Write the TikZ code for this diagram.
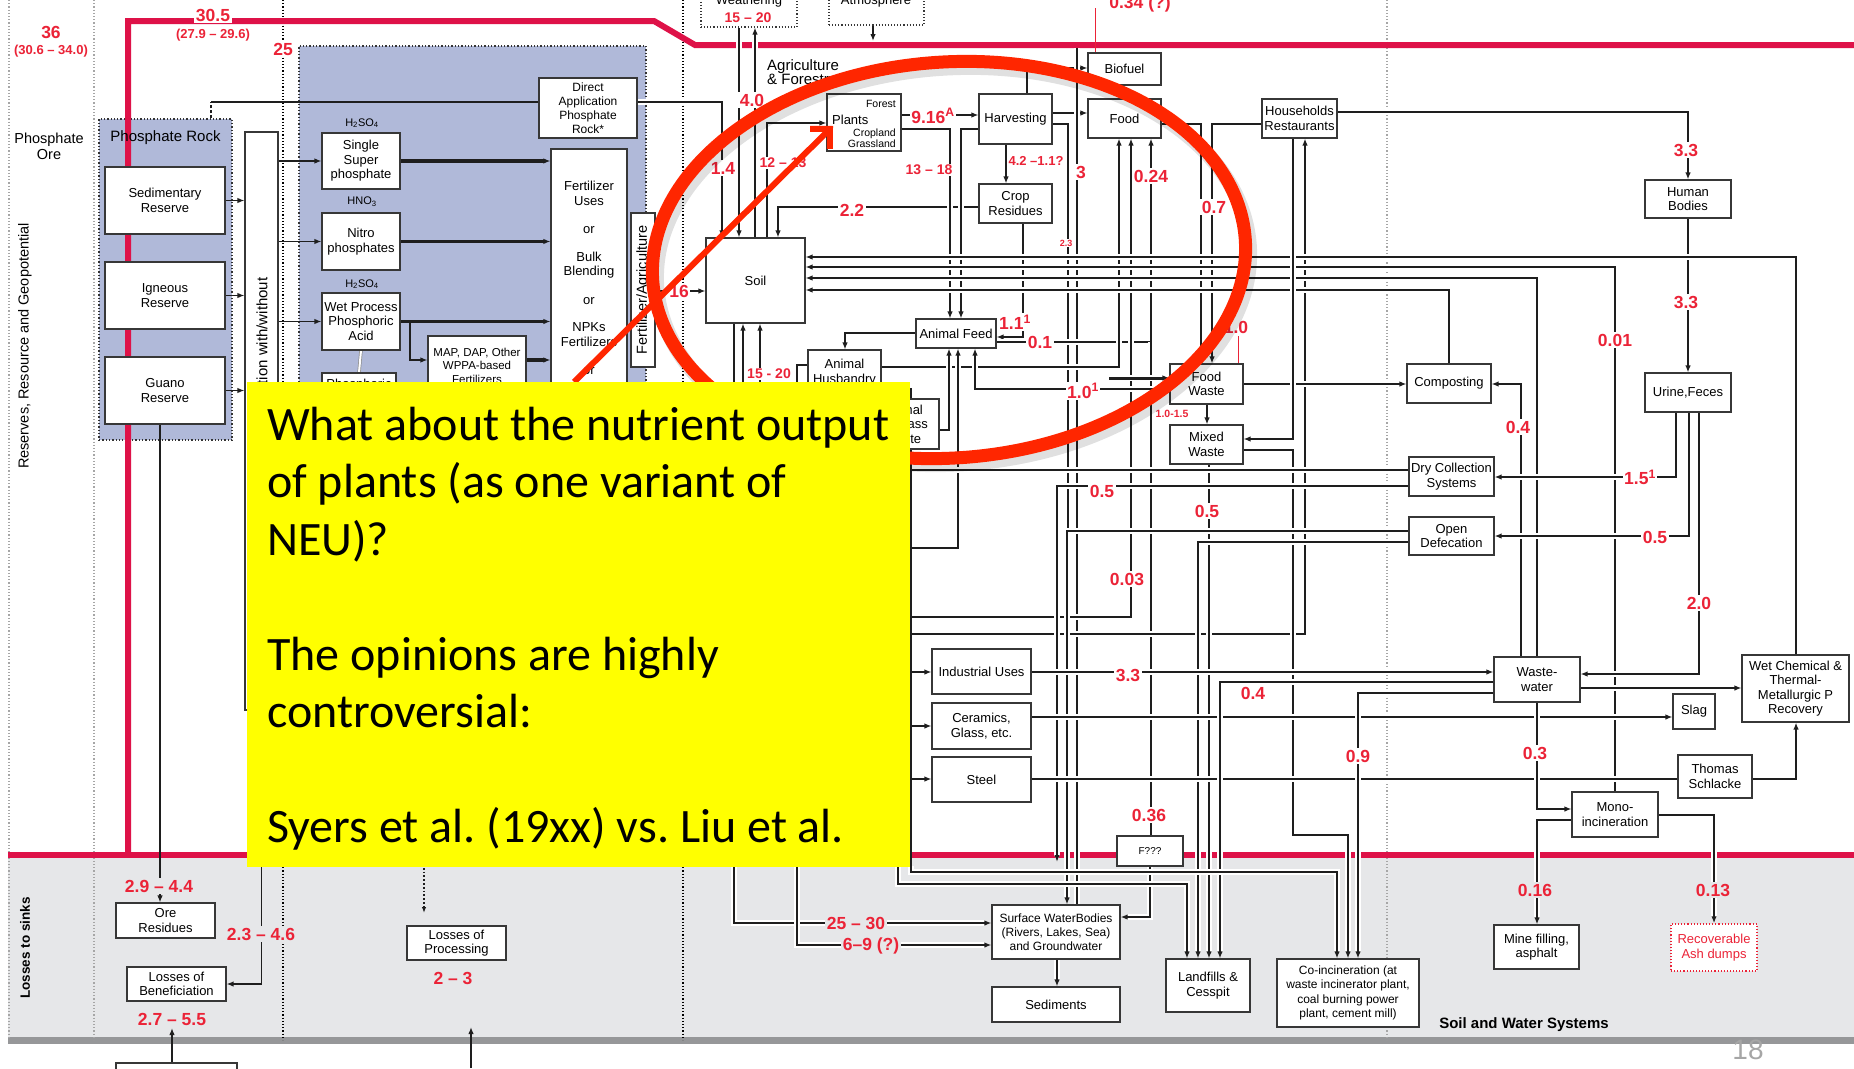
\documentclass[tikz,border=0pt]{standalone}
\usepackage{fontspec}
\setmainfont{Liberation Sans}
\newfontfamily\calfont{Carlito}
\usetikzlibrary{arrows.meta}
\pgfdeclarelayer{back}
\pgfdeclarelayer{lines}
\pgfdeclarelayer{top}
\pgfsetlayers{back,lines,main,top}
\definecolor{redline}{RGB}{222,18,72}
\definecolor{lred}{RGB}{235,35,55}
\definecolor{band}{RGB}{230,231,233}
\definecolor{barg}{RGB}{150,151,153}
\definecolor{lav}{RGB}{176,185,217}
\definecolor{ellred}{RGB}{255,38,0}
\definecolor{yel}{RGB}{255,255,0}
\definecolor{bline}{RGB}{55,55,55}
\definecolor{cline}{RGB}{30,30,30}
\frenchspacing
\newcommand\mybx[7][]{\node[bx,minimum width={(#5-#3)*1pt},minimum height={(#6-#4)*1pt},#1] (#2) at ({(#3+#5)/2},{(#4+#6)/2}) {#7};}
\tikzset{
  bx/.style={draw=bline,line width=1.1pt,fill=white,inner sep=1pt,align=center,font=\fontsize{13}{14.5}\selectfont},
  ln/.style={draw=cline,line width=1.8pt,preaction={draw=white,line width=6pt}},
  lnp/.style={draw=cline,line width=1.8pt},
  thk/.style={draw=cline,line width=3.5pt},
  tip/.style={-{Latex[length=7pt,width=5.5pt]}},
  lab/.style={text=lred,font=\bfseries\fontsize{17.5}{17.5}\selectfont,fill=white,inner sep=1.5pt},
  labg/.style={lab,fill=band},
  labs/.style={lab,font=\bfseries\fontsize{14}{14}\selectfont},
  labt/.style={text=lred,font=\bfseries\fontsize{13}{13}\selectfont,inner sep=1pt},
  txt/.style={font=\fontsize{13}{14.5}\selectfont,align=center,inner sep=1pt},
  sep/.style={line width=1.2pt,dotted},
  grp/.style={draw=black!80,line width=1.3pt,dotted,fill=lav,inner sep=0pt},
  redb/.style={draw=redline,line width=6pt},
  ytxt/.style={anchor=base west,font=\calfont\fontsize{48}{48}\selectfont,inner sep=0pt},
}
\begin{document}
\begin{tikzpicture}[x=1pt,y=-1pt]
\useasboundingbox (0,0) rectangle (1854,1068);
% ---------------- background layer
\begin{pgfonlayer}{back}
\fill[white] (0,0) rectangle (1854,1068);
\fill[band] (8,857) rectangle (1854,1039);
\fill[barg] (8,1037) rectangle (1854,1044);
\draw[sep,black!35] (9,0) -- (9,1040);
\draw[sep,black!35] (94,0) -- (94,1040);
\draw[sep] (283,0) -- (283,1040);
\draw[sep] (683,0) -- (683,1040);
\draw[sep,black!35] (1387,0) -- (1387,1040);
\node[grp,minimum width=133pt,minimum height=321pt] (prock) at (165.5,279.5) {};
\node[grp,minimum width=347pt,minimum height=674pt] (proc) at (472.5,383) {};
\draw[redb] (128,855) -- (128,21) -- (654,21) -- (695,45) -- (1854,45);
\draw[redb] (8,855) -- (1854,855);
\end{pgfonlayer}
% ---------------- boxes
\mybx{sed}{105}{167}{225}{234}{Sedimentary\\Reserve}
\mybx{ign}{105}{262}{225}{329}{Igneous\\Reserve}
\mybx{guano}{105}{357}{225}{424}{Guano\\Reserve}
\mybx{benef}{245}{132}{278}{710}{}
\mybx{ssp}{322}{133}{400}{189}{Single\\Super\\phosphate}
\mybx{nitro}{322}{213}{400}{270}{Nitro\\phosphates}
\mybx{wpa}{322}{293}{400}{350}{Wet Process\\Phosphoric\\Acid}
\mybx{phos}{322}{373}{396}{430}{}
\mybx[font=\fontsize{11.5}{13.5}\selectfont]{map}{428}{336}{526}{395}{MAP, DAP, Other\\WPPA-based\\Fertilizers}
\mybx[font=\fontsize{12}{14}\selectfont]{direct}{539}{78}{637}{138}{Direct\\Application\\Phosphate\\Rock*}
\mybx{fert}{551}{149}{627}{710}{}
\mybx{fa}{631}{213}{655}{367}{}
\mybx[dotted]{weath}{701}{-12}{797}{27}{}
\mybx[dotted]{atmos}{829}{-12}{924}{25}{}
\mybx{soil}{706}{238}{805}{323}{Soil}
\mybx{plants}{827}{94}{901}{151}{}
\mybx{harv}{979}{94}{1052}{144}{Harvesting}
\mybx{crop}{979}{184}{1052}{223}{Crop\\Residues}
\mybx{afeed}{916}{319}{996}{348}{Animal Feed}
\mybx{ahus}{808}{350}{881}{395}{Animal\\Husbandry}
\mybx{abw}{855}{399}{939}{449}{}
\mybx{biofuel}{1088}{53}{1161}{85}{Biofuel}
\mybx{food}{1088}{99}{1161}{138}{Food}
\mybx{house}{1262}{99}{1337}{138}{Households\\Restaurants}
\mybx{hbod}{1645}{180}{1731}{218}{Human\\Bodies}
\mybx{urine}{1645}{373}{1731}{412}{Urine,Feces}
\mybx{fwaste}{1170}{364}{1243}{404}{Food\\Waste}
\mybx{mwaste}{1170}{425}{1243}{464}{Mixed\\Waste}
\mybx{compost}{1407}{364}{1491}{403}{Composting}
\mybx{dry}{1409}{457}{1494}{496}{Dry Collection\\Systems}
\mybx{open}{1409}{517}{1494}{555}{Open\\Defecation}
\mybx{indus}{932}{649}{1031}{694}{Industrial Uses}
\mybx{ceram}{932}{703}{1031}{749}{Ceramics,\\Glass, etc.}
\mybx{steel}{932}{757}{1031}{802}{Steel}
\mybx{wwater}{1494}{657}{1580}{702}{Waste-\\water}
\mybx{wetchem}{1742}{655}{1849}{722}{Wet Chemical \&\\Thermal-\\Metallurgic P\\Recovery}
\mybx{slag}{1673}{694}{1715}{729}{Slag}
\mybx{thomas}{1678}{755}{1752}{798}{Thomas\\Schlacke}
\mybx{mono}{1572}{792}{1658}{837}{Mono-\\incineration}
\mybx[font=\fontsize{10}{10}\selectfont]{fquest}{1117}{836}{1183}{866}{F???}
\mybx[font=\fontsize{12}{14}\selectfont]{swater}{992}{905}{1120}{959}{Surface WaterBodies\\(Rivers, Lakes, Sea)\\and Groundwater}
\mybx{sed2}{992}{987}{1120}{1022}{Sediments}
\mybx{landfill}{1166}{959}{1250}{1012}{Landfills \&\\Cesspit}
\mybx[font=\fontsize{12}{14.5}\selectfont]{coinc}{1277}{959}{1419}{1027}{Co-incineration (at\\waste incinerator plant,\\coal burning power\\plant, cement mill)}
\mybx{mine}{1494}{925}{1579}{969}{Mine filling,\\asphalt}
\mybx[draw=lred,dotted,line width=1.5pt,text=lred]{ash}{1671}{924}{1757}{971}{Recoverable\\Ash dumps}
\mybx{oreres}{116}{903}{215}{938}{Ore\\Residues}
\mybx{lbenef}{127}{967}{226}{1001}{Losses of\\Beneficiation}
\mybx{lproc}{407}{926}{506}{960}{Losses of\\Processing}
\mybx{botbox}{116}{1063}{237}{1100}{}
% texts inside / near boxes
\node[font=\fontsize{15}{15}\selectfont] (prlab) at (165.5,138) {Phosphate Rock};
\node[rotate=90,anchor=east,font=\fontsize{15}{15}\selectfont] (beneft) at (262,274) {Beneficiation with/without};
\node[txt] (phost) at (359,385) {Phosphoric};
\node[txt] (abwt) at (903,424) {Animal\\Biomass\\Waste};
\node[txt,anchor=north] (fertt) at (589,180) {Fertilizer\\Uses\\[14pt]or\\[13pt]Bulk\\Blending\\[14pt]or\\[13pt]NPKs\\Fertilizers\\[14pt]or};
\node[rotate=90,font=\fontsize{14.5}{14.5}\selectfont] (fat) at (643,290) {Fertilizer/Agriculture};
\node[font=\fontsize{11}{11}\selectfont] (hs1) at (362,123) {H\textsubscript{2}SO\textsubscript{4}};
\node[font=\fontsize{11}{11}\selectfont] (hno) at (362,202) {HNO\textsubscript{3}};
\node[font=\fontsize{11}{11}\selectfont] (hs2) at (362,284) {H\textsubscript{2}SO\textsubscript{4}};
\node[font=\fontsize{10.5}{10.5}\selectfont,anchor=east,inner sep=0pt] (pfor) at (896,104) {Forest};
\node[font=\fontsize{13}{13}\selectfont,anchor=west,inner sep=0pt] (ppl) at (832,120) {Plants};
\node[font=\fontsize{10.5}{10.5}\selectfont,anchor=east,inner sep=0pt] (pcro) at (896,134) {Cropland};
\node[font=\fontsize{10.5}{10.5}\selectfont,anchor=east,inner sep=0pt] (pgra) at (896,144) {Grassland};
\node[font=\fontsize{13}{13}\selectfont] (weatht) at (749,1) {Weathering};
\node[font=\fontsize{13}{13}\selectfont] (atmost) at (876,1) {Atmosphere};
\node[font=\fontsize{14.5}{16}\selectfont,align=center] (phore) at (49,146) {Phosphate\\Ore};
\node[rotate=90,font=\fontsize{14.5}{14.5}\selectfont] (resl) at (25,346) {Reserves, Resource and Geopotential};
\node[rotate=90,font=\bfseries\fontsize{13.5}{13.5}\selectfont] (lossl) at (25,948) {Losses to sinks};
\node[anchor=north west,align=left,inner sep=0pt,font=\fontsize{15}{14.5}\selectfont] (agf) at (767,59) {Agriculture\\\& Forestry};
\node[font=\bfseries\fontsize{15}{15}\selectfont] (swsys) at (1524,1025) {Soil and Water Systems};
\node[text=black!35,font=\fontsize{28}{28}\selectfont] (pgno) at (1748,1050) {18};
\coordinate (b471) at (471,1068);
\coordinate (yA) at (880,470);
\coordinate (yB) at (880,548);
\coordinate (yC) at (880,617);
\coordinate (yD) at (880,634);
\coordinate (yE) at (895,672);
\coordinate (yF) at (895,726);
\coordinate (yG) at (895,779);
\coordinate (yH) at (898,700);
\coordinate (yI) at (911,388);
\coordinate (sA) at (743,700);
\coordinate (sB) at (760,700);
% ---------------- connectors
\begin{pgfonlayer}{lines}
\foreach \n in {sed,ign,guano} \draw[lnp,tip] (\n.east) -- (\n.east -| benef.west);
\draw[lnp,tip] (guano.south -| 160,0) -- (oreres.north -| 160,0);
\draw[lnp,tip] (benef.south) |- (lbenef.east);
\draw[lnp,tip] (botbox.north -| 172,0) -- (172,1028);
\draw[lnp,tip] (b471) -- (471,1027);
\draw[lnp,dotted,-{Latex[length=6pt,width=4.5pt]}] (424,864) -- (424,913);
\draw[lnp,densely dashed,line width=1.3pt] (prock.north -| 211,0) -- (211,102);
\draw[lnp] (211,102) -- (direct.west |- 0,102);
\draw[ln,tip] (direct.east |- 0,102) -| (soil.north -| 722,0);
\foreach \n in {ssp,nitro,wpa} \draw[lnp,tip] (benef.east |- \n.west) -- (\n.west);
\foreach \n in {ssp,nitro,wpa} \draw[thk,tip] (\n.east) -- (\n.east -| fert.west);
\draw[lnp,tip] (wpa.east -| 410,0) |- (map.west |- 0,360);
\draw[thk,tip] (map.east |- 0,360) -- (fert.west |- 0,360);
\draw[black!45,double,line width=0.7pt,double distance=2pt] (wpa.south) -- (phos.north);
\draw[ln,tip] (fa.east |- 0,291) -- (soil.west |- 0,291);
\draw[ln,tip] (weath.south -| 739,0) -- (soil.north -| 739,0);
\draw[ln,tip] (soil.north -| 755,0) -- (weath.south -| 755,0);
\draw[ln,tip] (atmos.south -| 873,0) -- (873,41);
\draw[ln,tip] (soil.north -| 767,0) |- (plants.west |- 0,123);
\draw[ln,tip] (crop.west |- 0,207) -| (soil.north -| 778,0);
\draw[ln,tip] (plants.east |- 0,115) -- (harv.west |- 0,115);
\draw[ln,tip] (plants.east |- 0,129) -| (afeed.north -| 950,0);
\draw[ln,tip] (harv.west |- 0,129) -| (afeed.north -| 961,0);
\draw[ln,tip] (harv.south -| 1006,0) -- (crop.north -| 1006,0);
\draw[ln,tip] (harv.north -| 1027,0) |- (biofuel.west |- 0,68);
\draw[ln,tip] (harv.east |- 0,113) -- (food.west |- 0,113);
\draw[ln] (harv.east |- 0,124) -| (1068,531);
\draw[ln] (1077,48) -- (swater.north -| 1077,0);
\draw[ln,tip] (crop.south -| 1023,0) |- (afeed.east |- 0,337);
\draw[ln,tip] (afeed.west |- 0,333) -| (ahus.north -| 845,0);
\draw[ln,tip] (afeed.east |- 0,342) -| (food.south -| 1151,0);
\draw[ln] (1151,342) -- (fquest.north -| 1151,0);
\draw[ln,tip] (fquest.south) |- (swater.east |- 0,917);
\draw[ln,tip] (ahus.east |- 0,367) -| (food.south -| 1119,0);
\draw[ln,tip] (yC) -| (food.south -| 1131,0);
\draw[ln,tip] (yD) -| (house.south -| 1305,0);
\draw[ln,tip] (fwaste.west |- 0,389) -| (afeed.south -| 975,0);
\draw[ln,line width=3pt,tip] (1109,378) -- (fwaste.west |- 0,378);
\draw[ln,tip] (abw.east |- 0,430) -| (afeed.south -| 949,0);
\draw[ln,tip] (yB) -| (afeed.south -| 958,0);
\draw[ln,tip] (food.east |- 0,124) -| (fwaste.north -| 1201,0);
\draw[ln,tip] (house.west |- 0,124) -| (fwaste.north -| 1212,0);
\draw[ln,tip] (house.east |- 0,112) -| (hbod.north);
\draw[ln,tip] (hbod.south) -- (urine.north);
\draw[ln,tip] (wetchem.north -| 1796,0) |- (soil.east |- 0,257);
\draw[ln,tip] (mono.north -| 1615,0) |- (soil.east |- 0,267);
\draw[ln,tip] (wwater.north -| 1537,0) |- (soil.east |- 0,278);
\draw[ln,tip] (compost.north -| 1449,0) |- (soil.east |- 0,290);
\draw[ln,tip] (fwaste.east |- 0,384) -- (compost.west |- 0,384);
\draw[ln,tip] (wwater.north -| 1521,0) |- (compost.east |- 0,384);
\draw[ln,tip] (fwaste.south -| 1207,0) -- (mwaste.north -| 1207,0);
\draw[ln,tip] (house.south -| 1293,0) |- (mwaste.east |- 0,439);
\draw[ln,tip] (mwaste.east |- 0,450) -- (1293,450) |- (1348,835) -- (coinc.north -| 1348,0);
\draw[ln,tip] (mwaste.south -| 1209,0) -- (landfill.north -| 1209,0);
\draw[ln] (yA) -- (dry.west |- 0,470);
\draw[ln,tip] (dry.west |- 0,486) -| (1057,862);
\draw[ln,tip] (open.west |- 0,531) -| (swater.north -| 1067,0);
\draw[ln,tip] (open.west |- 0,542) -| (landfill.north -| 1198,0);
\draw[ln,tip] (urine.south -| 1676,0) |- (dry.east |- 0,477);
\draw[ln,tip] (urine.south -| 1689,0) |- (open.east |- 0,536);
\draw[ln,tip] (urine.south -| 1699,0) |- (wwater.east |- 0,674);
\draw[ln,tip] (yE) -- (indus.west |- 0,672);
\draw[ln,tip] (indus.east |- 0,672) -- (wwater.west |- 0,672);
\draw[ln,tip] (yF) -- (ceram.west |- 0,726);
\draw[ln,tip] (ceram.east |- 0,717) -- (slag.west |- 0,717);
\draw[ln,tip] (yG) -- (steel.west |- 0,779);
\draw[ln] (steel.east |- 0,779) -- (thomas.west |- 0,779);
\draw[ln,tip] (thomas.east |- 0,779) -| (wetchem.south -| 1796,0);
\draw[ln,tip] (wwater.east |- 0,688) -- (wetchem.west |- 0,688);
\draw[ln,tip] (wwater.west |- 0,682) -| (landfill.north -| 1220,0);
\draw[ln,tip] (wwater.west |- 0,693) -| (coinc.north -| 1358,0);
\draw[ln,tip] (wwater.south -| 1537,0) |- (mono.west |- 0,809);
\draw[ln,tip] (mono.west |- 0,820) -| (mine.north -| 1537,0);
\draw[ln,tip] (mono.east |- 0,815) -| (ash.north -| 1714,0);
\draw[ln,tip] (swater.south -| 1057,0) -- (sed2.north -| 1057,0);
\draw[lnp] (yI) -- (911,866);
\draw[ln,tip] (911,866) |- (1337,872) -- (coinc.north -| 1337,0);
\draw[ln,tip] (yH) |- (1187,884) -- (landfill.north -| 1187,0);
\draw[ln,tip] (soil.south -| 734,0) |- (swater.west |- 0,923);
\draw[ln,tip] (ahus.west |- 0,365) -- (797,365) |- (swater.west |- 0,945);
\draw[ln,tip] (sA) -- (soil.south -| 743,0);
\draw[ln,tip] (sB) -- (soil.south -| 760,0);
\draw[lred,line width=1pt] (1095,8) -- (1095,63);
\draw[lred,line width=1pt] (1238,336) -- (1238,370);
\end{pgfonlayer}
% ---------------- red value labels
\node[lab] (v36) at (51,32) {36};
\node[labt] (v36b) at (51,51) {(30.6 – 34.0)};
\node[lab] (v305) at (213,15) {30.5};
\node[labt] (v305b) at (213,35) {(27.9 – 29.6)};
\node[lab] (v25) at (283,49) {25};
\node[lab] (v034) at (1140,4) {0.34 (?)};
\node[labs] (v1520a) at (748,18) {15 – 20};
\node[lab] (v14) at (723,168) {1.4};
\node[lab] (v4) at (752,100) {4.0};
\node[labs] (v1213) at (783,163) {12 – 13};
\node[lab] (v916) at (933,116) {9.16\textsuperscript{A}};
\node[labs] (v1318) at (929,170) {13 – 18};
\node[labt,font=\bfseries\fontsize{13}{13}\selectfont] (v42) at (1036,161) {4.2 –1.1?};
\node[lab] (v22) at (852,210) {2.2};
\node[lab] (v3) at (1081,172) {3};
\node[lab] (v024) at (1151,176) {0.24};
\node[lab] (v07) at (1214,207) {0.7};
\node[labt,fill=white,font=\bfseries\fontsize{9}{9}\selectfont] (v23) at (1066,243) {2.3};
\node[lab] (v11) at (1015,322) {1.1\textsuperscript{1}};
\node[lab] (v01) at (1040,342) {0.1};
\node[labs] (v1520b) at (769,374) {15 - 20};
\node[lab] (v10a) at (1083,391) {1.0\textsuperscript{1}};
\node[lab,fill=none] (v10b) at (1236,327) {1.0};
\node[labt,font=\bfseries\fontsize{10.5}{10.5}\selectfont] (v1015) at (1172,414) {1.0-1.5};
\node[lab] (v33a) at (1686,150) {3.3};
\node[lab] (v33b) at (1686,302) {3.3};
\node[lab] (v001) at (1615,340) {0.01};
\node[lab] (v04a) at (1518,427) {0.4};
\node[lab] (v15) at (1640,477) {1.5\textsuperscript{1}};
\node[lab] (v05a) at (1102,491) {0.5};
\node[lab] (v05b) at (1207,511) {0.5};
\node[lab] (v05c) at (1655,537) {0.5};
\node[lab] (v003) at (1127,579) {0.03};
\node[lab] (v20) at (1699,603) {2.0};
\node[lab] (v33c) at (1128,675) {3.3};
\node[lab] (v04b) at (1253,693) {0.4};
\node[lab] (v09) at (1358,756) {0.9};
\node[lab] (v03) at (1535,753) {0.3};
\node[lab] (v036) at (1149,815) {0.36};
\node[lab] (v16) at (679,291) {16};
\node[labg] (v016) at (1535,890) {0.16};
\node[labg] (v013) at (1713,890) {0.13};
\node[labg] (v2944) at (159,886) {2.9 – 4.4};
\node[labg] (v2346) at (261,934) {2.3 – 4.6};
\node[labg] (v2755) at (172,1019) {2.7 – 5.5};
\node[labg] (v23b) at (453,978) {2 – 3};
\node[labg] (v2530) at (856,923) {25 – 30};
\node[labg] (v69) at (871,946) {6–9 (?)};
% ---------------- overlay
\begin{pgfonlayer}{top}
\draw[black,opacity=0.12,line width=15pt,rotate around={4:(953,266)}] (953,266) ellipse [x radius=297, y radius=198];
\draw[ellred,line width=13pt,rotate around={4:(949,260)}] (949,260) ellipse [x radius=297, y radius=198];
\coordinate (rS) at (574,382);
\coordinate (rE) at (833,126);
\draw[ellred,line width=6pt,-{Straight Barb[length=14pt,width=28pt]}] (rS) -- (rE);
\node[fill=yel,minimum width=663pt,minimum height=485pt,inner sep=0pt] (ybox) at (578.5,624.5) {};
\node[ytxt] (y1) at (267,440) {What about the nutrient output};
\node[ytxt] (y2) at (267,497.5) {of plants (as one variant of};
\node[ytxt] (y3) at (267,555) {NEU)?};
\node[ytxt] (y5) at (267,670) {The opinions are highly};
\node[ytxt] (y6) at (267,727.5) {controversial:};
\node[ytxt] (y8) at (267,842.5) {Syers et al. (19xx) vs. Liu et al.};
\end{pgfonlayer}
\end{tikzpicture}
\end{document}
